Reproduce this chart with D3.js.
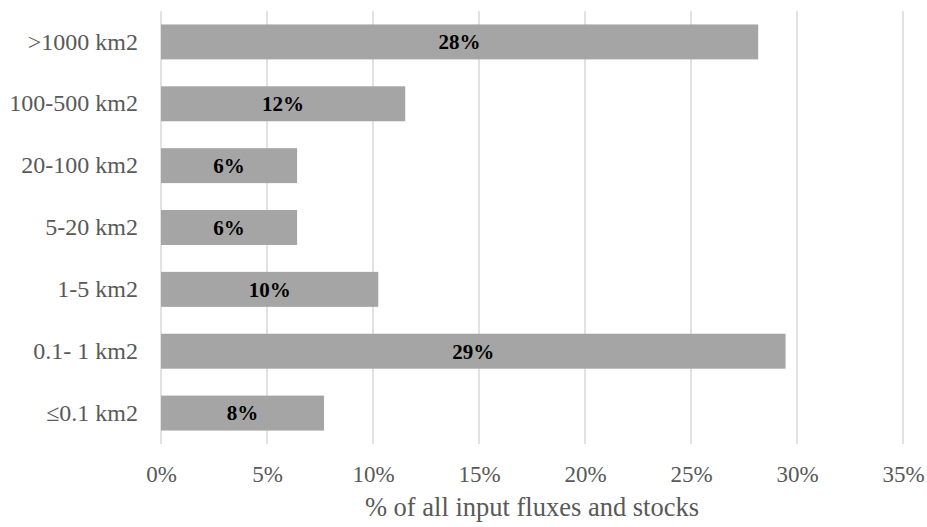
<!DOCTYPE html>
<html>
<head>
<meta charset="utf-8">
<script src="https://cdn.jsdelivr.net/npm/d3@7"></script>
<style>
  html, body { margin: 0; padding: 0; background: #fff; }
  svg, svg text { font-family: "Liberation Serif", "Times New Roman", Times, serif !important; }
</style>
</head>
<body>
<svg id="chart" width="927" height="527"></svg>
<script>
// Share of all input fluxes and stocks by lake area class
const categories = [">1000 km2", "100-500 km2", "20-100 km2", "5-20 km2", "1-5 km2", "0.1- 1 km2", "≤0.1 km2"];
const shares = [0.2817, 0.1152, 0.0642, 0.0642, 0.1025, 0.2946, 0.0769];
const tickValues = [0, 0.05, 0.10, 0.15, 0.20, 0.25, 0.30, 0.35];
const axisTitle = "% of all input fluxes and stocks";

const svg = d3.select("#chart");
const margin = { top: 11, right: 24, bottom: 83, left: 161 };
const width = 927 - margin.left - margin.right;
const height = 527 - margin.top - margin.bottom;

const x = d3.scaleLinear().domain([0, 0.35]).range([0, width]);
const y = d3.scaleBand().domain(categories).range([0, height]).paddingInner(0.435).paddingOuter(0.2175);

const g = svg.append("g").attr("transform", `translate(${margin.left},${margin.top})`);

// vertical gridlines
g.append("g")
  .selectAll("line")
  .data(tickValues)
  .join("line")
  .attr("x1", d => x(d)).attr("x2", d => x(d))
  .attr("y1", 0).attr("y2", height)
  .attr("stroke", "#d9d9d9")
  .attr("stroke-width", 1.5);

// bars
g.append("g")
  .selectAll("rect")
  .data(categories)
  .join("rect")
  .attr("x", x(0))
  .attr("y", d => y(d))
  .attr("width", (d, i) => x(shares[i]) - x(0))
  .attr("height", y.bandwidth())
  .attr("fill", "#a5a5a5");

// value labels centred in each bar
const fmt = d3.format(".0%");
g.append("g")
  .selectAll("text")
  .data(categories)
  .join("text")
  .attr("x", (d, i) => (x(0) + x(shares[i])) / 2)
  .attr("y", d => y(d) + y.bandwidth() / 2)
  .attr("dy", "0.35em")
  .attr("text-anchor", "middle")
  .attr("font-weight", "bold")
  .attr("font-size", 21)
  .attr("fill", "#000")
  .text((d, i) => fmt(shares[i]));

// category axis
const yAxis = g.append("g")
  .call(d3.axisLeft(y).tickSize(0).tickPadding(23));
yAxis.select(".domain").remove();
yAxis.selectAll("text")
  .attr("font-size", 24)
  .attr("fill", "#595959");

// value axis
const xAxis = g.append("g")
  .attr("transform", `translate(0,${height})`)
  .call(d3.axisBottom(x).tickValues(tickValues).tickFormat(d3.format(".0%")).tickSize(0).tickPadding(22));
xAxis.select(".domain").remove();
xAxis.selectAll("text")
  .attr("font-size", 23)
  .attr("fill", "#595959");

// axis title
g.append("text")
  .attr("x", width / 2)
  .attr("y", height + 72)
  .attr("text-anchor", "middle")
  .attr("font-size", 26.5)
  .attr("fill", "#595959")
  .text(axisTitle);
</script>
</body>
</html>
